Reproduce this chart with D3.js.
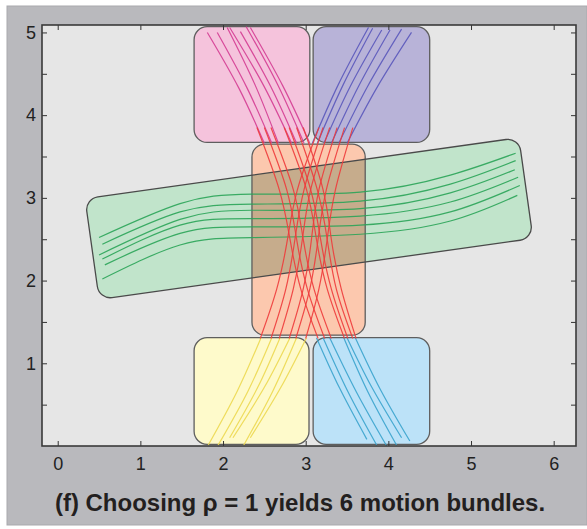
<!DOCTYPE html>
<html>
<head>
<meta charset="utf-8">
<script src="https://cdn.jsdelivr.net/npm/d3@7"></script>
<style>
  body { margin: 0; background: #fff; }
  svg { display: block; font-family: "Liberation Sans", Arial, sans-serif; }
</style>
</head>
<body>
<script>
// axis ticks
const xTicks = [0, 1, 2, 3, 4, 5, 6];
const yTicks = [0.5, 1, 1.5, 2, 2.5, 3, 3.5, 4, 4.5, 5];
const yLabels = [1, 2, 3, 4, 5];

// bundle boxes in data units: [x0, y0, x1, y1]
const bundleNames = ['pink', 'purple', 'orange', 'yellow', 'blue'];
const bundleBoxes = [
  [1.65, 3.67, 3.05, 5.07],
  [3.09, 3.67, 4.50, 5.07],
  [2.35, 1.34, 3.72, 3.65],
  [1.65, 0.02, 3.04, 1.31],
  [3.09, 0.02, 4.50, 1.31]
];
// tilted green box: centre, length, width, angle (deg)
const greenCentre = [3.04, 2.75];
const greenSize = [5.30, 1.23];
const greenAngle = 8;

// trajectories, one list of [x, y] per curve
const pinkLines = [
  [[1.81, 5.00], [2.19, 4.33], [2.50, 3.66]],
  [[1.93, 5.00], [2.29, 4.33], [2.59, 3.66]],
  [[2.05, 5.06], [2.39, 4.36], [2.67, 3.66]],
  [[2.08, 5.06], [2.49, 4.36], [2.83, 3.66]],
  [[2.21, 5.01], [2.58, 4.34], [2.89, 3.66]],
  [[2.28, 5.07], [2.66, 4.37], [2.98, 3.66]],
  [[2.33, 5.06], [2.72, 4.36], [3.05, 3.66]]
];
const purpleLines = [
  [[3.76, 5.06], [3.39, 4.36], [3.08, 3.66]],
  [[3.81, 5.05], [3.45, 4.36], [3.14, 3.66]],
  [[3.92, 5.03], [3.54, 4.35], [3.22, 3.66]],
  [[4.02, 5.03], [3.64, 4.35], [3.31, 3.66]],
  [[4.16, 5.04], [3.75, 4.35], [3.40, 3.66]],
  [[4.28, 5.00], [3.86, 4.33], [3.50, 3.66]]
];
const redLines = [
  [[2.41, 3.85], [2.68, 3.1], [2.81, 2.5], [2.94, 1.9], [3.15, 1.30]],
  [[2.50, 3.85], [2.77, 3.1], [2.89, 2.5], [3.02, 1.9], [3.23, 1.30]],
  [[2.58, 3.85], [2.85, 3.1], [2.97, 2.5], [3.10, 1.9], [3.31, 1.30]],
  [[2.74, 3.85], [3.01, 3.1], [3.13, 2.5], [3.26, 1.9], [3.47, 1.30]],
  [[2.80, 3.85], [3.06, 3.1], [3.18, 2.5], [3.31, 1.9], [3.51, 1.30]],
  [[2.89, 3.85], [3.14, 3.1], [3.26, 2.5], [3.37, 1.9], [3.57, 1.30]],
  [[2.97, 3.85], [3.21, 3.1], [3.31, 2.5], [3.43, 1.9], [3.61, 1.30]],
  [[3.16, 3.85], [2.90, 3.1], [2.78, 2.5], [2.65, 1.9], [2.45, 1.30]],
  [[3.21, 3.85], [2.98, 3.1], [2.87, 2.5], [2.76, 1.9], [2.58, 1.30]],
  [[3.29, 3.85], [3.06, 3.1], [2.96, 2.5], [2.85, 1.9], [2.68, 1.30]],
  [[3.38, 3.85], [3.16, 3.1], [3.07, 2.5], [2.97, 1.9], [2.80, 1.30]],
  [[3.47, 3.85], [3.25, 3.1], [3.15, 2.5], [3.05, 1.9], [2.88, 1.30]],
  [[3.57, 3.85], [3.36, 3.1], [3.26, 2.5], [3.16, 1.9], [3.00, 1.30]]
];
const yellowLines = [
  [[2.46, 1.31], [2.17, 0.66], [1.82, 0.01]],
  [[2.59, 1.31], [2.30, 0.66], [1.94, 0.01]],
  [[2.69, 1.31], [2.42, 0.71], [2.08, 0.10]],
  [[2.81, 1.31], [2.50, 0.71], [2.12, 0.10]],
  [[2.89, 1.31], [2.60, 0.66], [2.25, 0.01]],
  [[3.01, 1.31], [2.70, 0.71], [2.33, 0.10]]
];
const blueLines = [
  [[3.13, 1.31], [3.41, 0.70], [3.74, 0.08]],
  [[3.21, 1.31], [3.51, 0.66], [3.86, 0.01]],
  [[3.29, 1.31], [3.61, 0.66], [3.98, 0.00]],
  [[3.46, 1.31], [3.75, 0.66], [4.10, 0.01]],
  [[3.50, 1.31], [3.80, 0.71], [4.16, 0.10]],
  [[3.60, 1.31], [3.90, 0.69], [4.26, 0.06]]
];
const greenLines = [
  [[0.50, 2.52], [1.48, 2.93], [2.35, 3.045], [3.66, 3.07], [4.75, 3.275], [5.54, 3.54]],
  [[0.54, 2.44], [1.48, 2.83], [2.35, 2.925], [3.66, 2.96], [4.75, 3.166], [5.54, 3.45]],
  [[0.50, 2.31], [1.48, 2.74], [2.35, 2.85], [3.66, 2.87], [4.75, 3.06], [5.53, 3.34]],
  [[0.54, 2.26], [1.48, 2.67], [2.35, 2.75], [3.66, 2.78], [4.75, 2.95], [5.57, 3.25]],
  [[0.57, 2.19], [1.48, 2.57], [2.35, 2.65], [3.66, 2.67], [4.75, 2.83], [5.59, 3.15]],
  [[0.54, 2.02], [1.48, 2.43], [2.35, 2.52], [3.66, 2.56], [4.75, 2.72], [5.56, 3.03]]
];

const width = 587;
const height = 529;
const plot = { left: 42, top: 25, right: 576, bottom: 446 };

const boxFill = { pink: '#f5c3dc', purple: '#b8b3d8', orange: '#fcc8ae', yellow: '#fefacb', blue: '#bce2f8' };
const greenFill = '#c1e4cb';
const overlapFill = '#c6ac8c';

const xScale = d3.scaleLinear().domain([-0.19, 6.27]).range([plot.left, plot.right]);
const yScale = d3.scaleLinear().domain([0, 5.09]).range([plot.bottom, plot.top]);

const svg = d3.select('body')
  .append('svg')
  .attr('width', width)
  .attr('height', height);

// grey panel behind the figure
svg.append('rect')
  .attr('x', 7).attr('y', 6)
  .attr('width', width - 7).attr('height', 519)
  .attr('fill', '#b9b9bd')
  .attr('stroke', '#a9a9ad');

svg.append('rect')
  .attr('x', plot.left).attr('y', plot.top)
  .attr('width', plot.right - plot.left).attr('height', plot.bottom - plot.top)
  .attr('fill', '#e6e6e6');

const rx = 13;
const boxRect = (sel, b) => sel
  .attr('x', xScale(b[0]))
  .attr('y', yScale(b[3]))
  .attr('width', xScale(b[2]) - xScale(b[0]))
  .attr('height', yScale(b[1]) - yScale(b[3]))
  .attr('rx', rx).attr('ry', rx);

const gcx = xScale(greenCentre[0]);
const gcy = yScale(greenCentre[1]);
const gw = xScale(greenSize[0]) - xScale(0);
const gh = yScale(0) - yScale(greenSize[1]);
const greenRect = (sel) => sel
  .attr('x', gcx - gw / 2)
  .attr('y', gcy - gh / 2)
  .attr('width', gw)
  .attr('height', gh)
  .attr('rx', rx).attr('ry', rx)
  .attr('transform', 'rotate(' + (-greenAngle) + ',' + gcx + ',' + gcy + ')');

svg.append('clipPath')
  .attr('id', 'orange-clip')
  .append('rect')
  .call(boxRect, bundleBoxes[2]);

// fills
svg.append('g')
  .selectAll('rect')
  .data(bundleBoxes)
  .enter()
  .append('rect')
  .each(function (d) { d3.select(this).call(boxRect, d); })
  .attr('fill', (d, i) => boxFill[bundleNames[i]]);

svg.append('rect').call(greenRect).attr('fill', greenFill);

// where the green box crosses the orange one
svg.append('g')
  .attr('clip-path', 'url(#orange-clip)')
  .append('rect')
  .call(greenRect)
  .attr('fill', overlapFill);

// outlines
svg.append('g')
  .selectAll('rect')
  .data(bundleBoxes)
  .enter()
  .append('rect')
  .each(function (d) { d3.select(this).call(boxRect, d); })
  .attr('fill', 'none')
  .attr('stroke', '#5e5e5e')
  .attr('stroke-width', 1.3);

svg.append('rect').call(greenRect)
  .attr('fill', 'none')
  .attr('stroke', '#4a4a4a')
  .attr('stroke-width', 1.3);

// trajectories
const line = d3.line()
  .x((d) => xScale(d[0]))
  .y((d) => yScale(d[1]))
  .curve(d3.curveNatural);

const bundles = [
  [greenLines, '#2aa458'],
  [pinkLines, '#d43c92'],
  [purpleLines, '#5a58bb'],
  [yellowLines, '#ecd850'],
  [blueLines, '#3aa3cd'],
  [redLines, '#ee3b3b']
];

bundles.forEach(([lines, color]) => {
  svg.append('g')
    .selectAll('path')
    .data(lines)
    .enter()
    .append('path')
    .attr('d', line)
    .attr('fill', 'none')
    .attr('stroke', color)
    .attr('stroke-width', 1.2)
    .attr('stroke-opacity', 0.9);
});

// axes with inward ticks
const styleAxis = (g) => {
  g.select('.domain').remove();
  g.selectAll('line').attr('stroke', '#333').attr('stroke-width', 1);
  g.selectAll('text').attr('fill', '#222').style('font-size', '18px');
};

svg.append('g')
  .attr('transform', 'translate(0,' + plot.bottom + ')')
  .call(d3.axisBottom(xScale).tickValues(xTicks).tickSize(-5).tickPadding(11).tickFormat(d3.format('d')))
  .call(styleAxis);

svg.append('g')
  .attr('transform', 'translate(0,' + plot.top + ')')
  .call(d3.axisTop(xScale).tickValues(xTicks).tickSize(-5).tickFormat(''))
  .call(styleAxis);

svg.append('g')
  .attr('transform', 'translate(' + plot.left + ',0)')
  .call(d3.axisLeft(yScale).tickValues(yTicks).tickSize(-5).tickPadding(6)
    .tickFormat((d) => yLabels.includes(d) ? d : ''))
  .call(styleAxis);

svg.append('g')
  .attr('transform', 'translate(' + plot.right + ',0)')
  .call(d3.axisRight(yScale).tickValues(yTicks).tickSize(-5).tickFormat(''))
  .call(styleAxis);

svg.append('rect')
  .attr('x', plot.left).attr('y', plot.top)
  .attr('width', plot.right - plot.left).attr('height', plot.bottom - plot.top)
  .attr('fill', 'none')
  .attr('stroke', '#3a3a3a')
  .attr('stroke-width', 1.6);

svg.append('text')
  .attr('x', 300)
  .attr('y', 511)
  .attr('text-anchor', 'middle')
  .attr('fill', '#231f20')
  .style('font-size', '24px')
  .style('font-weight', 'bold')
  .text('(f) Choosing \u03c1 = 1 yields 6 motion bundles.');
</script>
</body>
</html>
